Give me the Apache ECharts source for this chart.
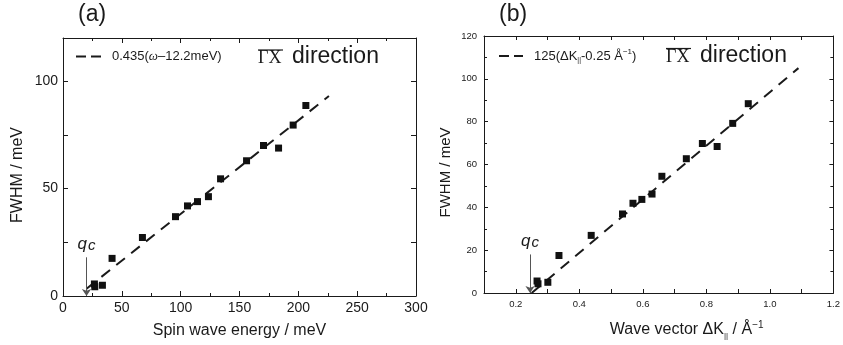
<!DOCTYPE html>
<html>
<head>
<meta charset="utf-8">
<script src="https://cdn.jsdelivr.net/npm/echarts@6/dist/echarts.min.js"></script>
<style>
html,body{margin:0;padding:0;background:#fff;}
#chart{width:843px;height:345px;}
</style>
</head>
<body>
<div id="chart"></div>
<script>
// ---- Panel (a): FWHM vs spin wave energy ----
const aEnergy = [26.7, 27.0, 33.5, 41.7, 67.5, 95.6, 105.8, 114.3, 123.6, 133.9, 156.0, 170.4, 183.2, 195.6, 206.4];
const aFwhm   = [5.6, 4.3, 5.0, 17.5, 27.2, 36.9, 41.9, 43.9, 46.2, 54.5, 62.9, 70.0, 68.8, 79.5, 88.6];
const aFitX   = [20, 226];
const aFitY   = [3.4, 93.0];
const aQc     = 20;
const aXTicks = [0, 50, 100, 150, 200, 250, 300];
const aYTicks = [0, 50, 100];

// ---- Panel (b): FWHM vs wave vector ----
const bK      = [0.267, 0.270, 0.301, 0.336, 0.4375, 0.536, 0.569, 0.597, 0.629, 0.660, 0.737, 0.7875, 0.834, 0.883, 0.932];
const bFwhm   = [5.6, 4.3, 5.0, 17.5, 26.9, 36.9, 41.9, 43.7, 46.2, 54.5, 62.7, 69.8, 68.4, 79.2, 88.4];
const bFitX   = [0.25, 1.09];
const bFitY   = [0, 105];
const bQc     = 0.245;
const bXTicks = ['0.2', '0.4', '0.6', '0.8', '1.0', '1.2'];
const bYTicks = [0, 20, 40, 60, 80, 100, 120];

const SANS = '"Liberation Sans", Arial, sans-serif';
const SERIF = '"Liberation Serif", "Times New Roman", serif';
const INK = '#1a1a1a';

function zip(xs, ys) { return xs.map((x, i) => [x, ys[i]]); }

const chart = echarts.init(document.getElementById('chart'), null, {renderer: 'canvas'});

const axisLine = {show: true, onZero: false, lineStyle: {color: INK, width: 1}};

function mirrorAxis(base, pos) {
  return Object.assign({}, base, {
    position: pos,
    name: '',
    axisLabel: {show: false},
  });
}

const aX = {
  type: 'value', gridIndex: 0, min: 0, max: 300, interval: 50,
  axisLine: axisLine,
  axisTick: {show: true, inside: true, length: 5, lineStyle: {color: INK}},
  minorTick: {show: true, splitNumber: 2, length: 3, lineStyle: {color: INK}},
  splitLine: {show: false},
  axisLabel: {
    fontSize: 14, fontFamily: SANS, color: INK, margin: 5,
    formatter: v => (aXTicks.indexOf(v) >= 0 ? String(v) : '')
  },
  name: 'Spin wave energy / meV', nameLocation: 'middle', nameGap: 27,
  nameTextStyle: {fontSize: 16, fontFamily: SANS, color: INK}
};
const aY = {
  type: 'value', gridIndex: 0, min: 0, max: 120, interval: 25,
  axisLine: axisLine,
  axisTick: {show: true, inside: true, length: 5, lineStyle: {color: INK}},
  splitLine: {show: false},
  axisLabel: {
    fontSize: 14, fontFamily: SANS, color: INK, margin: 5,
    formatter: v => (aYTicks.indexOf(v) >= 0 ? String(v) : '')
  },
  name: 'FWHM / meV', nameLocation: 'middle', nameGap: 37,
  nameTextStyle: {fontSize: 16, fontFamily: SANS, color: INK, padding: [0, 16, 0, 0]}
};
const bX = {
  type: 'value', gridIndex: 1, min: 0.1, max: 1.2, interval: 0.1,
  axisLine: axisLine,
  axisTick: {show: true, inside: true, length: 4, lineStyle: {color: INK}},
  splitLine: {show: false},
  axisLabel: {
    fontSize: 9.5, fontFamily: SANS, color: INK, margin: 6,
    formatter: v => { const s = v.toFixed(1); return bXTicks.indexOf(s) >= 0 ? s : ''; }
  },
  name: 'Wave vector ΔK{sub|||} / Å{sup|−1}', nameLocation: 'middle', nameGap: 27,
  nameTextStyle: {
    fontSize: 16, fontFamily: SANS, color: INK, padding: [0, 0, 0, 56],
    lineHeight: 20,
    rich: {
      sub: {fontSize: 8, fontFamily: SANS, color: INK, lineHeight: 8, verticalAlign: 'bottom'},
      sup: {fontSize: 10, fontFamily: SANS, color: INK, lineHeight: 10, verticalAlign: 'top'}
    }
  }
};
const bY = {
  type: 'value', gridIndex: 1, min: 0, max: 120, interval: 20,
  axisLine: axisLine,
  axisTick: {show: true, inside: true, length: 4, lineStyle: {color: INK}},
  minorTick: {show: true, splitNumber: 2, length: 3, lineStyle: {color: INK}},
  splitLine: {show: false},
  axisLabel: {
    fontSize: 9.5, fontFamily: SANS, color: INK, margin: 7,
    formatter: v => (bYTicks.indexOf(v) >= 0 ? String(v) : '')
  },
  name: 'FWHM / meV', nameLocation: 'middle', nameGap: 31,
  nameTextStyle: {fontSize: 15, fontFamily: SANS, color: INK, padding: [0, 16, 0, 0]}
};

function qcMarkLine(xv) {
  return {
    silent: true,
    symbol: ['none', 'arrow'],
    symbolSize: 7,
    lineStyle: {color: '#555', width: 1, type: 'solid'},
    label: {
      show: true, position: 'start', distance: 4,
      formatter: '{q|q}{c|c}',
      rich: {
        q: {fontSize: 17, fontStyle: 'italic', fontFamily: SANS, color: INK, lineHeight: 18, verticalAlign: 'top'},
        c: {fontSize: 15, fontStyle: 'italic', fontFamily: SANS, color: INK, lineHeight: 12, verticalAlign: 'bottom', padding: [0, 0, 0, 1]}
      }
    },
    data: [[{coord: [xv, 18]}, {coord: [xv, 0]}]]
  };
}

const fitA = 'fitA', fitB = 'fitB';

function legendFor(name, left, top, width, fmt, rich) {
  return {
    data: [name], left: left, top: top, padding: 0,
    itemWidth: width, itemHeight: 14,
    selectedMode: false,
    itemStyle: {opacity: 0},
    lineStyle: {type: [10, 5], width: 2, color: INK},
    formatter: fmt,
    textStyle: {padding: [0, 0, 0, 6], rich: rich}
  };
}

const option = {
  animation: false,
  backgroundColor: '#fff',
  grid: [
    {left: 63, top: 38, width: 353, height: 258},
    {left: 484, top: 36, width: 352, height: 259}
  ],
  xAxis: [
    aX, mirrorAxis(aX, 'top'),
    bX, mirrorAxis(bX, 'top')
  ],
  yAxis: [
    aY, mirrorAxis(aY, 'right'),
    bY, mirrorAxis(bY, 'right')
  ],
  legend: [
    legendFor(fitA, 75, 50, 25, () => '{n|0.435(}{w|ω}{n|–12.2meV)}', {
      n: {fontSize: 13, fontFamily: SANS, color: INK},
      w: {fontSize: 13, fontStyle: 'italic', fontFamily: SERIF, color: INK}
    }),
    legendFor(fitB, 498, 48, 24, () => '{n|125(ΔK}{sub|||}{n|-0.25 Å}{sup|−1}{n|)}', {
      n: {fontSize: 13, fontFamily: SANS, color: INK, lineHeight: 16},
      sub: {fontSize: 7, fontFamily: SANS, color: INK, lineHeight: 7, verticalAlign: 'bottom'},
      sup: {fontSize: 8, fontFamily: SANS, color: INK, lineHeight: 8, verticalAlign: 'top'}
    })
  ],
  graphic: [
    {type: 'text', x: 78, y: 15, style: {text: '(a)', font: '23px ' + SANS, fill: INK, verticalAlign: 'middle'}},
    {type: 'text', x: 499, y: 15, style: {text: '(b)', font: '23px ' + SANS, fill: INK, verticalAlign: 'middle'}},
    {type: 'text', x: 258, y: 58, style: {text: 'ΓX', font: '18px ' + SERIF, fill: INK, verticalAlign: 'middle'}},
    {type: 'text', x: 292, y: 56.5, style: {text: 'direction', font: '23px ' + SANS, fill: INK, verticalAlign: 'middle'}},
    {type: 'line', shape: {x1: 258, y1: 50, x2: 283, y2: 50}, style: {stroke: INK, lineWidth: 1.2}},
    {type: 'text', x: 666, y: 57, style: {text: 'ΓX', font: '18px ' + SERIF, fill: INK, verticalAlign: 'middle'}},
    {type: 'text', x: 700, y: 55.5, style: {text: 'direction', font: '23px ' + SANS, fill: INK, verticalAlign: 'middle'}},
    {type: 'line', shape: {x1: 666, y1: 48.5, x2: 691, y2: 48.5}, style: {stroke: INK, lineWidth: 1.2}}
  ],
  series: [
    {
      name: fitA, type: 'line', xAxisIndex: 0, yAxisIndex: 0,
      data: zip(aFitX, aFitY), symbol: 'none', z: 2,
      itemStyle: {color: INK},
      lineStyle: {color: INK, width: 2, type: [11, 8]}
    },
    {
      name: 'dataA', type: 'scatter', xAxisIndex: 0, yAxisIndex: 0,
      data: zip(aEnergy, aFwhm), symbol: 'rect', symbolSize: 7, z: 3,
      itemStyle: {color: '#111', opacity: 1},
      markLine: qcMarkLine(aQc)
    },
    {
      name: fitB, type: 'line', xAxisIndex: 2, yAxisIndex: 2,
      data: zip(bFitX, bFitY), symbol: 'none', z: 2,
      itemStyle: {color: INK},
      lineStyle: {color: INK, width: 2, type: [11, 8]}
    },
    {
      name: 'dataB', type: 'scatter', xAxisIndex: 2, yAxisIndex: 2,
      data: zip(bK, bFwhm), symbol: 'rect', symbolSize: 7, z: 3,
      itemStyle: {color: '#111', opacity: 1},
      markLine: qcMarkLine(bQc)
    }
  ]
};
chart.setOption(option);
</script>
</body>
</html>
